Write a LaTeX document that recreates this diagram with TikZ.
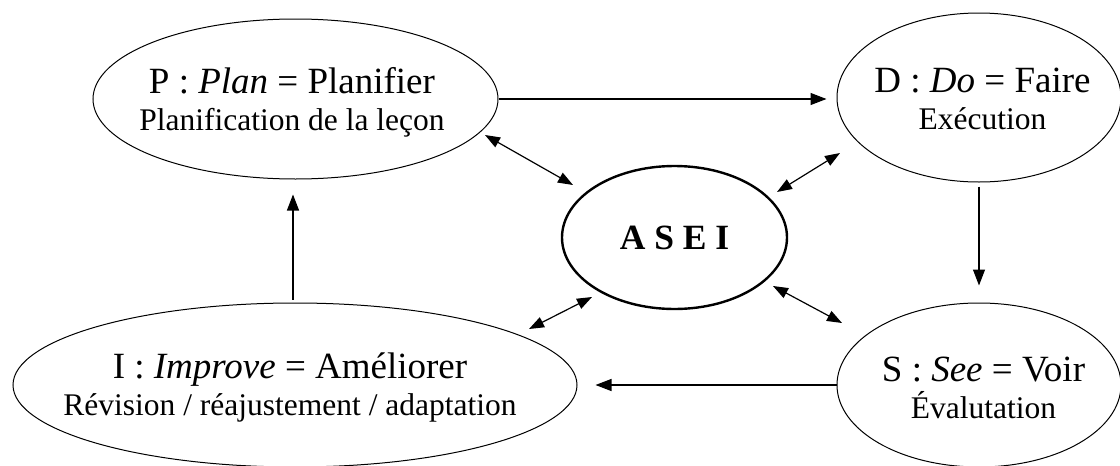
\documentclass[tikz,border=0pt]{standalone}
\usepackage{fontspec}
\setmainfont{Liberation Serif}
\usetikzlibrary{shapes.geometric,arrows.meta}
\newcommand{\lineA}[1]{{\fontsize{37}{37}\selectfont #1}}
\newcommand{\lineB}[1]{{\fontsize{31.5}{37}\selectfont #1}}
\begin{document}
\begin{tikzpicture}[x=1pt,y=-1pt,
  phase/.style={draw, ellipse, line width=1pt, inner sep=0pt},
  label/.style={inner sep=0pt, align=center, font=\fontsize{31.5}{37}\selectfont},
  conn/.style={line width=1.2pt, -{Triangle[length=16pt,width=12pt]}},
  dbl/.style={line width=1.2pt, {Triangle[length=15pt,width=11pt]}-{Triangle[length=15pt,width=11pt]}}]
\useasboundingbox (0,0) rectangle (1120,466);

% ellipses
\node[phase, minimum width=405pt, minimum height=160pt] (P) at (295.5,99) {};
\node[phase, minimum width=284pt, minimum height=169pt] (D) at (979,97.5) {};
\node[phase, minimum width=284pt, minimum height=164pt] (S) at (979,385) {};
\node[phase, minimum width=564pt, minimum height=164pt] (I) at (295,385) {};
\node[draw, ellipse, line width=2.4pt, inner sep=0pt, minimum width=225pt, minimum height=143pt,
  font=\fontsize{35.5}{40}\selectfont\bfseries] (A) at (674.5,237.5) {A S E I};

% texts
\node[label] (Pt) at (292,102.5)
  {\lineA{P : \textit{Plan} = Planifier}\\\lineB{Planification de la leçon}};
\node[label] (Dt) at (982.5,99)
  {\lineA{D : \textit{Do} = Faire}\\\lineB{Exécution}};
\node[label] (St) at (983.5,388)
  {\lineA{S : \textit{See} = Voir}\\\lineB{Évalutation}};
\node[label] (It) at (290,387.5)
  {\lineA{I : \textit{Improve} = Améliorer}\\\lineB{Révision / réajustement / adaptation}};

% cycle arrows
\draw[conn, shorten >=10pt] (P.east) -- (P.east -| D.west);
\draw[conn, shorten <=4pt, shorten >=17pt] (D.south) -- (S.north);
\draw[conn, shorten >=18pt] (S.west) -- (S.west -| I.east);
\draw[conn, shorten <=3pt, shorten >=15pt] ([xshift=-2pt]I.north) -- ([xshift=-2pt]I.north |- P.south);

% double arrows to ASEI
\coordinate (pa1) at (485,135);
\coordinate (pa2) at (573,185);
\coordinate (da1) at (840,153);
\coordinate (da2) at (777,192);
\coordinate (ia1) at (529,329);
\coordinate (ia2) at (592,297);
\coordinate (sa1) at (773,286);
\coordinate (sa2) at (842,323);
\draw[dbl] (pa1) -- (pa2);
\draw[dbl] (da1) -- (da2);
\draw[dbl] (ia1) -- (ia2);
\draw[dbl] (sa1) -- (sa2);
\end{tikzpicture}
\end{document}
